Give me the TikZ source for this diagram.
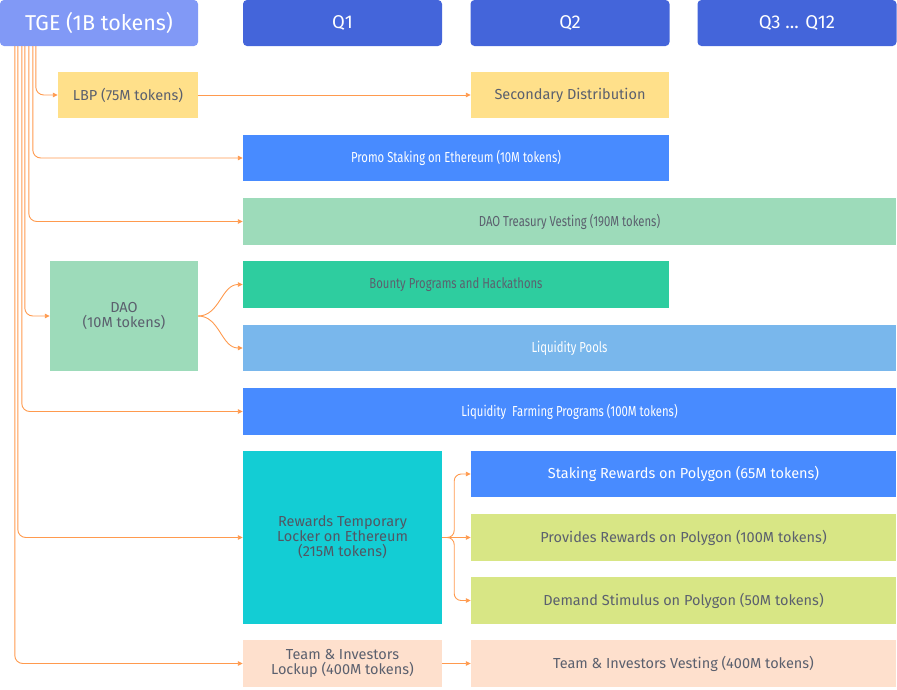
\documentclass[tikz,border=0pt]{standalone}
\usepackage{fontspec}
\setmainfont{Fira Sans}
\newfontfamily\narrowfont[FakeStretch=0.78]{Fira Sans}
\usetikzlibrary{arrows.meta,calc}

\definecolor{tgeblue}{HTML}{8199F6}
\definecolor{qblue}{HTML}{4465DA}
\definecolor{lbpyellow}{HTML}{FFE08A}
\definecolor{midblue}{HTML}{488BFF}
\definecolor{mint}{HTML}{9DDBBA}
\definecolor{jade}{HTML}{2ECD9F}
\definecolor{skyblue}{HTML}{79B7EC}
\definecolor{tealbox}{HTML}{13CDD4}
\definecolor{lime}{HTML}{D8E685}
\definecolor{peach}{HTML}{FEE0CD}
\definecolor{txtgray}{HTML}{5B606E}
\definecolor{feedorange}{HTML}{FF9A4E}

\tikzset{
  box/.style={rectangle, inner sep=0pt, align=center, text=txtgray,
    font=\fontsize{14.5}{15}\selectfont},
  thin box/.style={box, font=\narrowfont\fontsize{14.5}{15}\selectfont},
  head/.style={rectangle, rounded corners=4pt, inner sep=0pt, fill=qblue, text=white,
    font=\fontsize{18.5}{21}\selectfont, minimum width=199pt, minimum height=46pt},
  feed/.style={draw=feedorange, line width=0.9pt, -{Triangle[length=5pt,width=4.5pt]}},
}

\begin{document}
\begin{tikzpicture}[x=1pt,y=-1pt]
  \useasboundingbox (0,0) rectangle (897,689);
  % header row
  \node[head, fill=tgeblue, minimum width=198pt, font=\fontsize{21.5}{22}\selectfont] (tge) at (99,23) {TGE (1B tokens)};
  \node[head] (qa) at (342.5,23) {Q1};
  \node[head] (qb) at (570,23) {Q2};
  \node[head] (qc) at (797,23) {Q3 ... Q12};
  % allocations
  \node[box, fill=lbpyellow, minimum width=140pt, minimum height=46pt] (lbp) at (128,95) {LBP (75M tokens)};
  \node[box, fill=lbpyellow, minimum width=198pt, minimum height=46pt] (sec) at (570,95) {Secondary Distribution};
  \node[thin box, fill=midblue, text=white, minimum width=426pt, minimum height=46pt] (promo) at (456,158) {Promo Staking on Ethereum (10M tokens)};
  \node[thin box, fill=mint, minimum width=653pt, minimum height=47pt] (treasury) at (569.5,221.5) {DAO Treasury Vesting (190M tokens)};
  \node[box, fill=mint, minimum width=148pt, minimum height=110pt] (dao) at (124,316) {DAO\\(10M tokens)};
  \node[thin box, fill=jade, minimum width=426pt, minimum height=47pt] (bounty) at (456,284.5) {Bounty Programs and Hackathons};
  \node[thin box, fill=skyblue, text=white, minimum width=653pt, minimum height=46pt] (pools) at (569.5,348) {Liquidity Pools};
  \node[thin box, fill=midblue, text=white, minimum width=653pt, minimum height=47pt] (farming) at (569.5,411.5) {Liquidity\ \ Farming Programs (100M tokens)};
  \node[box, fill=tealbox, text=txtgray!90!black, minimum width=199pt, minimum height=173pt] (rewards) at (342.5,537.5) {Rewards Temporary\\Locker on Ethereum\\(215M tokens)};
  \node[box, fill=midblue, text=white, minimum width=425pt, minimum height=46pt] (staking) at (683.5,474) {Staking Rewards on Polygon (65M tokens)};
  \node[box, fill=lime, minimum width=425pt, minimum height=47pt] (provides) at (683.5,537.5) {Provides Rewards on Polygon (100M tokens)};
  \node[box, fill=lime, minimum width=425pt, minimum height=47pt] (demand) at (683.5,600.5) {Demand Stimulus on Polygon (50M tokens)};
  \node[box, fill=peach, minimum width=199pt, minimum height=47pt] (lockup) at (342.5,663.5) {Team \& Investors\\Lockup (400M tokens)};
  \node[box, fill=peach, minimum width=425pt, minimum height=47pt] (vesting) at (683.5,663.5) {Team \& Investors Vesting (400M tokens)};

  % feeds out of the TGE
  \foreach \dx/\dest in {36/lbp, 33/promo, 29/treasury, 25/dao, 22/farming, 18/rewards, 15/lockup}
    \draw[feed, rounded corners=8pt] ([xshift=\dx pt]tge.south west) |- (\dest.west);
  \draw[feed] (lbp.east) -- (sec.west);
  \draw[feed] (lockup.east) -- (vesting.west);
  % DAO split
  \draw[feed] (dao.east) to[out=0,in=180] (bounty.west);
  \draw[feed] (dao.east) to[out=0,in=180] (pools.west);
  % rewards split
  \draw[feed, rounded corners=7pt] (rewards.east) -- ++(12,0) |- (staking.west);
  \draw[feed, rounded corners=7pt] (rewards.east) -- ++(12,0) |- (demand.west);
  \draw[feed] (rewards.east) -- (provides.west);
\end{tikzpicture}
\end{document}
